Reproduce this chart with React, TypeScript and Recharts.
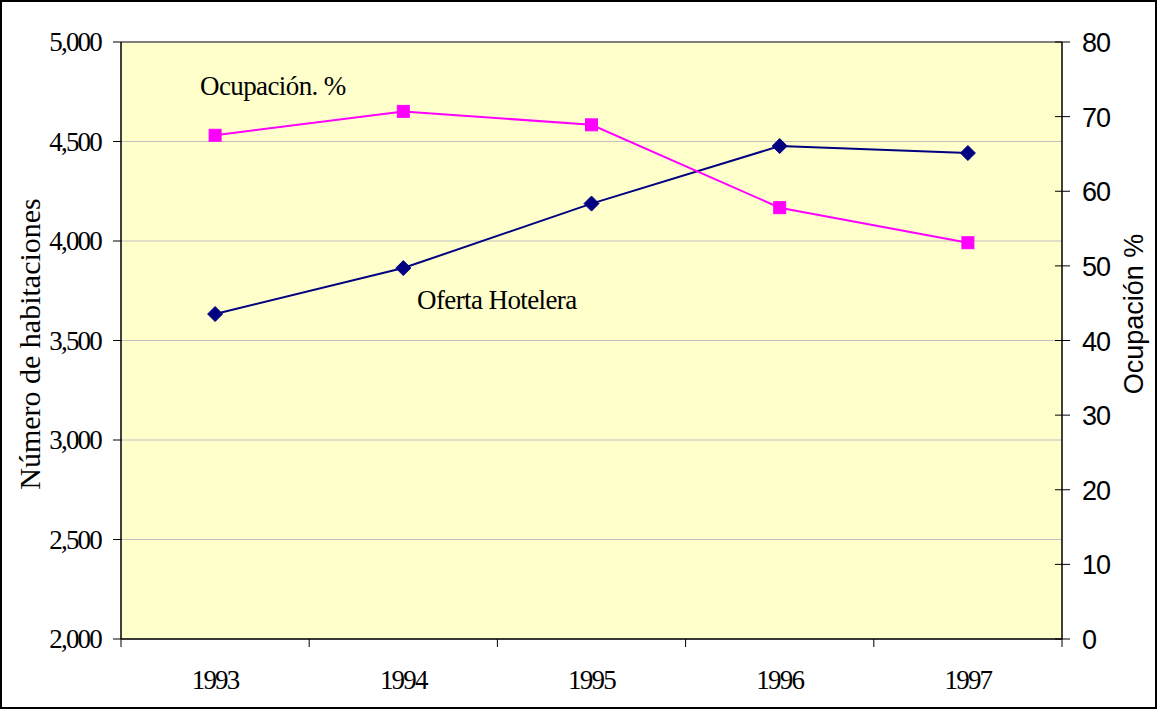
import React from 'react';
import { LineChart, Line, XAxis, YAxis, CartesianGrid, Customized } from 'recharts';

const years = ['1993', '1994', '1995', '1996', '1997'];
const ofertaHotelera = [3633, 3864, 4188, 4477, 4442];
const ocupacion = [67.5, 70.7, 68.9, 57.8, 53.1];
const leftTicks = [2000, 2500, 3000, 3500, 4000, 4500, 5000];
const rightTicks = [0, 10, 20, 30, 40, 50, 60, 70, 80];

const data = years.map((y, i) => ({ year: y, oferta: ofertaHotelera[i], ocup: ocupacion[i] }));

const SERIF = '"Liberation Serif", "Times New Roman", serif';
const SANS = '"Liberation Sans", Arial, sans-serif';

const Diamond = (props: any) => {
  const { cx, cy } = props;
  if (cx == null || cy == null) return null;
  const s = 7.5;
  return <path d={`M${cx},${cy - s}L${cx + s},${cy}L${cx},${cy + s}L${cx - s},${cy}Z`} fill="#000080" stroke="#000080" />;
};

const Square = (props: any) => {
  const { cx, cy } = props;
  if (cx == null || cy == null) return null;
  const s = 6;
  return <rect x={cx - s} y={cy - s} width={2 * s} height={2 * s} fill="#FF00FF" stroke="#FF00FF" />;
};

const XTick = (props: any) => {
  const { x, y, payload, index, visibleTicksCount } = props;
  const off = payload && payload.offset ? payload.offset : 94;
  const last = index === (visibleTicksCount ?? years.length) - 1;
  return (
    <g>
      <line x1={x - off} y1={y} x2={x - off} y2={y + 8} stroke="#000" strokeWidth={1} />
      {last && <line x1={x + off} y1={y} x2={x + off} y2={y + 8} stroke="#000" strokeWidth={1} />}
      <text x={x} y={y + 50} textAnchor="middle" fontFamily={SERIF} fontSize={27} letterSpacing={-1.8} fill="#000">
        {payload.value}
      </text>
    </g>
  );
};

const RightTick = (props: any) => {
  const { x, y, payload } = props;
  return (
    <g>
      <line x1={x - 7} y1={y} x2={x + 8} y2={y} stroke="#000" strokeWidth={1} />
      <text x={x + 20} y={y + 10} textAnchor="start" fontFamily={SANS} fontSize={27} letterSpacing={-1} fill="#000">
        {payload.value}
      </text>
    </g>
  );
};

const LeftTick = (props: any) => {
  const { x, y, payload } = props;
  return (
    <text x={x} y={y + 9} textAnchor="end" fontFamily={SERIF} fontSize={27} letterSpacing={-1.8} fill="#000">
      {Number(payload.value).toLocaleString('en-US')}
    </text>
  );
};

const Overlay = () => (
  <g>
    <rect x={1} y={1} width={1155} height={707} fill="none" stroke="#000" strokeWidth={2} />
    <line x1={121} y1={42} x2={1062} y2={42} stroke="#808080" strokeWidth={2} />
    <text x={200} y={95} fontFamily={SERIF} fontSize={27} letterSpacing={-0.6} fill="#000">Ocupación. %</text>
    <text x={417} y={309} fontFamily={SERIF} fontSize={27} letterSpacing={-0.6} fill="#000">Oferta Hotelera</text>
    <text
      transform="translate(40,344) rotate(-90)"
      textAnchor="middle"
      fontFamily={SERIF}
      fontSize={30}
      letterSpacing={0}
      fill="#000"
    >
      Número de habitaciones
    </text>
    <text
      transform="translate(1143,314) rotate(-90)"
      textAnchor="middle"
      fontFamily={SANS}
      fontSize={27}
      letterSpacing={0}
      fill="#000"
    >
      Ocupación %
    </text>
  </g>
);

export default function App() {
  return (
    <div style={{ position: 'absolute', left: 0, top: 0, width: 1158, height: 710, background: '#fff' }}>
      <LineChart width={1158} height={710} data={data} margin={{ top: 42, right: 0, bottom: 0, left: 0 }}>
        <CartesianGrid yAxisId="left" vertical={false} stroke="#C0C0C0" fill="#FFFFCC" fillOpacity={1} />
        <XAxis
          dataKey="year"
          scale="band"
          height={71}
          axisLine={{ stroke: '#000', strokeWidth: 1.5 }}
          tickLine={false}
          tickSize={0}
          tickMargin={0}
          tick={<XTick />}
          interval={0}
        />
        <YAxis
          yAxisId="left"
          width={121}
          domain={[2000, 5000]}
          ticks={leftTicks}
          axisLine={{ stroke: '#000', strokeWidth: 1.5 }}
          tickLine={{ stroke: '#000' }}
          tickSize={8}
          tickMargin={12}
          tick={<LeftTick />}
          interval={0}
        />
        <YAxis
          yAxisId="right"
          orientation="right"
          width={96}
          domain={[0, 80]}
          ticks={rightTicks}
          axisLine={{ stroke: '#000', strokeWidth: 1.5 }}
          tickLine={false}
          tickSize={0}
          tickMargin={0}
          tick={<RightTick />}
          interval={0}
        />
        <Line
          yAxisId="left"
          type="linear"
          dataKey="oferta"
          stroke="#000080"
          strokeWidth={2}
          dot={<Diamond />}
          isAnimationActive={false}
        />
        <Line
          yAxisId="right"
          type="linear"
          dataKey="ocup"
          stroke="#FF00FF"
          strokeWidth={2}
          dot={<Square />}
          isAnimationActive={false}
        />
        <Customized component={<Overlay />} />
      </LineChart>
    </div>
  );
}
